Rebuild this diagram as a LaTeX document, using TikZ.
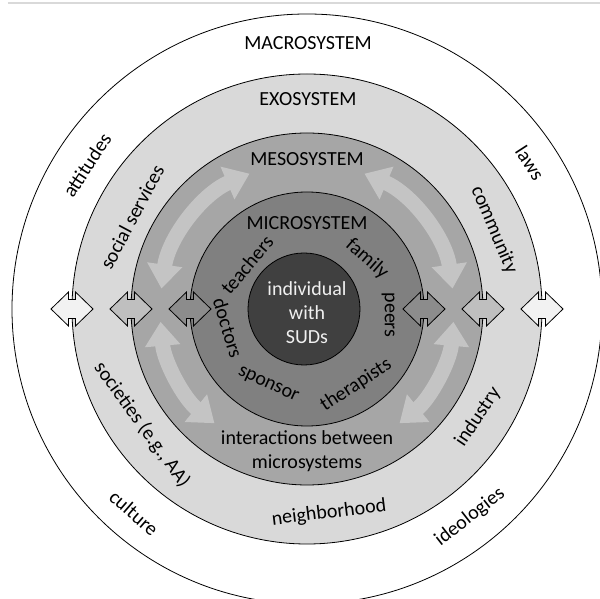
\documentclass[tikz,border=0pt]{standalone}
\usepackage{fontspec}
\setmainfont{Carlito}
\usetikzlibrary{arrows.meta}

\definecolor{exogray}{HTML}{D9D9D9}
\definecolor{mesogray}{HTML}{A6A6A6}
\definecolor{microgray}{HTML}{808080}
\definecolor{coregray}{HTML}{404040}
\definecolor{flowgray}{HTML}{C4C4C4}
\definecolor{outarr}{HTML}{F2F2F2}
\definecolor{midarr}{HTML}{BFBFBF}
\definecolor{inarr}{HTML}{8C8C8C}

\begin{document}
\begin{tikzpicture}[x=0.5pt,y=0.5pt,
        every node/.style={inner sep=0pt, text=black, font=\fontsize{10}{12}\selectfont},
        ring/.style={draw=black, line width=0.4pt},
        flow/.style={draw=flowgray, line width=7.5pt, >={Triangle[width=17pt,length=12pt]}, <->},
        linkarrow/.pic={\filldraw[draw=black, line width=0.4pt] (-21,0) -- (-3.5,17) -- (-3.5,9.5) -- (3.5,9.5) -- (3.5,17) -- (21,0) -- (3.5,-17) -- (3.5,-9.5) -- (-3.5,-9.5) -- (-3.5,-17) -- cycle;}]
        \useasboundingbox (-307,-290) rectangle (293,309);
        \clip (-307,-290) rectangle (293,309);
        \draw [black!15, line width=0.6pt] (-299,306) -- (293,306);
        % the system rings
        \draw [ring, fill=white] (0,0) circle (295);
        \draw [ring, fill=exogray] (0,0) circle (235);
        \draw [ring, fill=mesogray] (0,0) circle (176);
        \draw [ring, fill=microgray] (0,0) circle (117);
        \draw [ring, fill=coregray] (-3,0) circle (56);
        % interactions inside the mesosystem
        \draw [flow] (172:147) arc [start angle=172, end angle=113, radius=147];
        \draw [flow] (8:147) arc [start angle=8, end angle=67, radius=147];
        \draw [flow] (185:147) arc [start angle=185, end angle=231, radius=147];
        \draw [flow] (-5:147) arc [start angle=-5, end angle=-51, radius=147];
        % links between the levels
        \pic [fill=outarr] (linkL3) at (-235,0) {linkarrow};
        \pic [fill=midarr] (linkL2) at (-176,0) {linkarrow};
        \pic [fill=inarr] (linkL1) at (-117,0) {linkarrow};
        \pic [fill=inarr] (linkR1) at (117,0) {linkarrow};
        \pic [fill=midarr] (linkR2) at (176,0) {linkarrow};
        \pic [fill=outarr] (linkR3) at (235,0) {linkarrow};
        % labels
        \node (macro) at (1,266) {MACROSYSTEM};
        \node (exo) at (1,210) {EXOSYSTEM};
        \node (meso) at (0,150) {MESOSYSTEM};
        \node (micro) at (0,86) {MICROSYSTEM};
        \node [text=white!94!black, align=center] (core) at (0,-4) {individual\\with\\SUDs};
        \node [rotate=57] (attitudes) at (-220,144) {attitudes};
        \node [rotate=-57] (laws) at (223,146) {laws};
        \node [rotate=62] (social) at (-175,92) {social services};
        \node [rotate=-67] (community) at (187,79) {community};
        \node [rotate=50] (teachers) at (-60,44) {teachers};
        \node [rotate=-41] (family) at (60,50) {family};
        \node [rotate=-90] (peers) at (81,-6) {peers};
        \node [rotate=-73] (doctors) at (-79,-19) {doctors};
        \node [rotate=-25] (sponsor) at (-39,-76) {sponsor};
        \node [rotate=33] (therapists) at (49,-76) {therapists};
        \node [align=center] (interact) at (0,-142) {interactions between\\microsystems};
        \node [rotate=-54] (societies) at (-165,-116) {societies (e.g., AA)};
        \node [rotate=56] (industry) at (171,-108) {industry};
        \node [rotate=-41] (culture) at (-173,-204) {culture};
        \node [rotate=7] (neighborhood) at (22,-204) {neighborhood};
        \node [rotate=38] (ideologies) at (163,-208) {ideologies};
\end{tikzpicture}
\end{document}
